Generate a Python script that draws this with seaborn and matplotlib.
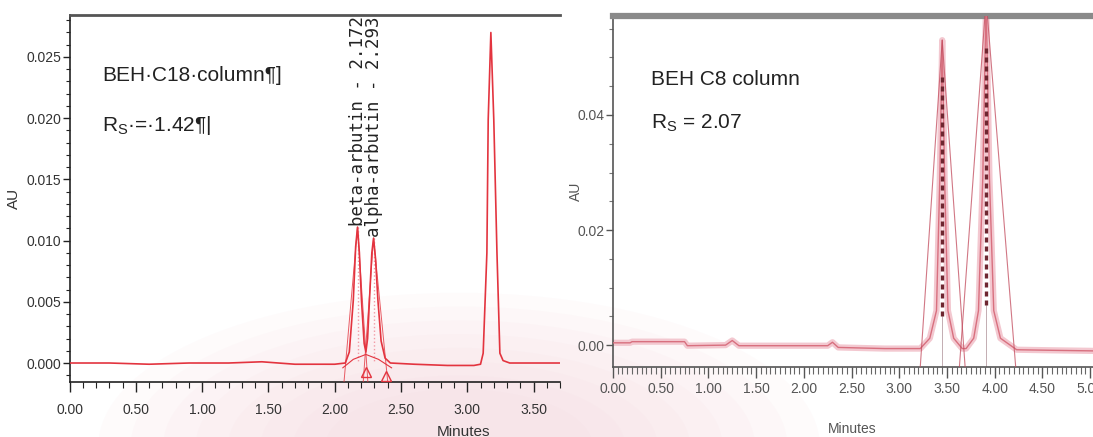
import matplotlib
matplotlib.use("Agg")
import pandas as pd
import seaborn as sns
import matplotlib.pyplot as plt
from matplotlib import font_manager
from matplotlib.ticker import MultipleLocator, FormatStrFormatter
from matplotlib.patches import Ellipse

# ---------------- data: BEH C18 column ----------------
c18_time = [0.00, 0.30, 0.60, 0.90, 1.20, 1.45, 1.70, 2.00, 2.08, 2.11, 2.14, 2.158,
            2.172, 2.186, 2.202, 2.222, 2.235, 2.248, 2.262, 2.280, 2.293, 2.308, 2.326,
            2.350, 2.38, 2.42, 2.60, 2.85, 3.05, 3.10, 3.12, 3.148, 3.158, 3.178, 3.20,
            3.224, 3.246, 3.27, 3.32, 3.50, 3.70]
c18_au = [0.0000, 0.0000, -0.0001, 0.0000, 0.0000, 0.0001, -0.0001, -0.0001, 0.0000,
          0.0009, 0.0051, 0.0095, 0.0111, 0.0090, 0.0051, 0.0016, 0.0009, 0.0020, 0.0051,
          0.0090, 0.0102, 0.0085, 0.0051, 0.0018, 0.0004, 0.0000, -0.0001, -0.0002,
          -0.0002, -0.0001, 0.0008, 0.0090, 0.0199, 0.0270, 0.0199, 0.0090, 0.0008,
          0.0002, 0.0000, 0.0000, 0.0000]
c18_peak_names = ["beta-arbutin", "alpha-arbutin"]
c18_peak_rt = [2.172, 2.293]
c18_peak_height = [0.0111, 0.0102]
c18_tangent_left = [2.07, 2.215]
c18_tangent_right = [2.25, 2.40]
c18_marker_time = [2.235, 2.385]
c18_marker_au = [-0.0007, -0.0011]
c18_skim_time = [2.06, 2.14, 2.235, 2.33, 2.43]
c18_skim_au = [-0.0004, 0.0003, 0.0007, 0.0003, -0.0004]
c18_rs = 1.42

# ---------------- data: BEH C8 column ----------------
c8_time = [0.00, 0.18, 0.20, 0.75, 0.78, 1.18, 1.25, 1.32, 2.25, 2.30, 2.36, 2.85,
           3.22, 3.32, 3.39, 3.425, 3.45, 3.475, 3.51, 3.57, 3.66, 3.70, 3.78, 3.83,
           3.875, 3.91, 3.945, 3.99, 4.06, 4.23, 4.60, 5.03]
c8_au = [0.0004, 0.0004, 0.0006, 0.0006, -0.0001, 0.0000, 0.0008, -0.0001, -0.0001,
         0.0005, -0.0004, -0.0006, -0.0006, 0.0012, 0.0060, 0.0290, 0.0530, 0.0290,
         0.0060, 0.0012, -0.0006, -0.0006, 0.0012, 0.0060, 0.0290, 0.0600, 0.0290,
         0.0060, 0.0012, -0.0008, -0.0009, -0.0010]
c8_peak_rt = [3.45, 3.91]
c8_peak_height = [0.053, 0.060]
c8_core_top = [0.047, 0.052]
c8_core_bottom = [0.005, 0.007]
c8_tangent_left = [3.22, 3.63]
c8_tangent_right = [3.69, 4.22]
c8_rs = 2.07


def pick_font(names):
    for name in names:
        try:
            font_manager.findfont(font_manager.FontProperties(family=name),
                                  fallback_to_default=False)
            return name
        except Exception:
            continue
    return "DejaVu Sans"


sns.set_theme(style="white")
plt.rcParams["font.family"] = ["Liberation Sans", "DejaVu Sans"]
narrow = pick_font(["Liberation Sans Narrow", "Liberation Sans"])

fig = plt.figure(figsize=(10.93, 4.37), dpi=100)
fig.patch.set_facecolor("white")
# soft pink glow behind the lower middle of the page
for k in range(8):
    scale = 1.0 - 0.09 * k
    fig.patches.append(Ellipse((0.42, -0.02), 0.66 * scale, 0.70 * scale,
                               transform=fig.transFigure, facecolor="#f7d3db",
                               edgecolor="none", alpha=0.09, zorder=0))

ax1 = fig.add_axes([0.0637, 0.1259, 0.4487, 0.8398])
ax2 = fig.add_axes([0.5608, 0.1602, 0.4392, 0.8032])
for ax in (ax1, ax2):
    ax.set_facecolor("none")
    ax.set_zorder(2)

# ---------- left panel ----------
red = "#e3343f"
ymin1, ymax1 = -0.00155, 0.02843
df18 = pd.DataFrame({"time": c18_time, "au": c18_au})
sns.lineplot(data=df18, x="time", y="au", ax=ax1, color=red, lw=1.2,
             estimator=None, sort=False, zorder=4)
for rt, h, tl, tr in zip(c18_peak_rt, c18_peak_height, c18_tangent_left, c18_tangent_right):
    ax1.plot([tl, rt, tr], [ymin1, h, ymin1], color=red, lw=0.7, alpha=0.8, zorder=3)
    ax1.plot([rt, rt], [h, 0.0], color="#f29aa5", lw=1.0, ls=":", zorder=3)
sns.lineplot(x=c18_skim_time, y=c18_skim_au, ax=ax1, color=red, lw=0.8,
             estimator=None, sort=False, zorder=3)
ax1.plot(c18_marker_time, c18_marker_au, ls="none", marker="^", ms=7,
         mfc="none", mec=red, mew=1.0, zorder=5)
for name, rt, h in zip(c18_peak_names, c18_peak_rt, c18_peak_height):
    ax1.text(rt, h + 0.0001, f"{name} - {rt:.3f}", rotation=90, ha="center",
             va="bottom", fontsize=12.5, color="#222222", family="DejaVu Sans Mono",
             zorder=6)

ax1.text(0.245, 0.0235, "BEH·C18·column¶]", fontsize=15, color="#222222",
         va="center", ha="left")
ax1.text(0.245, 0.0194, r"R$_{\mathregular{S}}$·=·" + f"{c18_rs:.2f}" + "¶|",
         fontsize=15, color="#222222", va="center", ha="left")

ax1.set_xlim(0, 3.70)
ax1.set_ylim(ymin1, ymax1)
ax1.xaxis.set_major_locator(MultipleLocator(0.5))
ax1.xaxis.set_minor_locator(MultipleLocator(0.1))
ax1.yaxis.set_major_locator(MultipleLocator(0.005))
ax1.yaxis.set_minor_locator(MultipleLocator(0.001))
ax1.xaxis.set_major_formatter(FormatStrFormatter("%.2f"))
ax1.yaxis.set_major_formatter(FormatStrFormatter("%.3f"))
ax1.tick_params(axis="x", which="major", direction="out", length=7, width=1,
                color="#222222", pad=8, labelsize=10, labelcolor="#333333",
                bottom=True, labelfontfamily=narrow)
ax1.tick_params(axis="x", which="minor", direction="out", length=4, width=0.8,
                color="#222222", bottom=True)
ax1.tick_params(axis="y", which="major", direction="out", length=5, width=1,
                color="#222222", pad=1, labelsize=10, labelcolor="#333333",
                left=True, labelfontfamily=narrow)
ax1.tick_params(axis="y", which="minor", direction="out", length=3, width=0.8,
                color="#222222", left=True)
ax1.set_xlabel("Minutes", fontsize=11, color="#333333", family=narrow)
ax1.set_ylabel("AU", fontsize=11, color="#333333", family=narrow)
ax1.xaxis.set_label_coords(0.804, -0.118)
ax1.yaxis.set_label_coords(-0.099, 0.5)
ax1.spines["right"].set_visible(False)
ax1.spines["top"].set_color("#555555")
ax1.spines["top"].set_linewidth(2.0)
for s in ("left", "bottom"):
    ax1.spines[s].set_color("#222222")
    ax1.spines[s].set_linewidth(1.2)

# ---------- right panel ----------
ymin2, ymax2 = -0.0038, 0.0572
df8 = pd.DataFrame({"time": c8_time, "au": c8_au})
sns.lineplot(data=df8, x="time", y="au", ax=ax2, color="#f3c8d0", lw=4.5,
             estimator=None, sort=False, zorder=2)
sns.lineplot(data=df8, x="time", y="au", ax=ax2, color="#d8707f", lw=1.0,
             estimator=None, sort=False, zorder=3)
for rt, h, tl, tr, ct, cb in zip(c8_peak_rt, c8_peak_height, c8_tangent_left,
                                 c8_tangent_right, c8_core_top, c8_core_bottom):
    ax2.plot([tl, rt, tr], [ymin2, h, ymin2], color="#c24a5c", lw=0.8, alpha=0.75, zorder=3)
    ax2.plot([rt, rt], [cb, ct], color="#6e2630", lw=2.4, ls=(0, (1.5, 1.2)), zorder=4)
    ax2.plot([rt, rt], [ymin2, cb], color="#b9a0a6", lw=0.6, zorder=2)

ax2.text(0.40, 0.0461, "BEH C8 column", fontsize=15, color="#222222",
         va="center", ha="left")
ax2.text(0.40, 0.0386, r"R$_{\mathregular{S}}$ = " + f"{c8_rs:.2f}", fontsize=15,
         color="#222222", va="center", ha="left")

ax2.set_xlim(0, 5.03)
ax2.set_ylim(ymin2, ymax2)
ax2.xaxis.set_major_locator(MultipleLocator(0.5))
ax2.xaxis.set_minor_locator(MultipleLocator(0.05))
ax2.yaxis.set_major_locator(MultipleLocator(0.02))
ax2.yaxis.set_minor_locator(MultipleLocator(0.005))
ax2.xaxis.set_major_formatter(FormatStrFormatter("%.2f"))
ax2.yaxis.set_major_formatter(FormatStrFormatter("%.2f"))
ax2.tick_params(axis="x", which="major", direction="out", length=8, width=1,
                color="#555555", pad=3, labelsize=10, labelcolor="#555555",
                bottom=True, labelfontfamily=narrow)
ax2.tick_params(axis="x", which="minor", direction="out", length=5, width=0.8,
                color="#666666", bottom=True)
ax2.tick_params(axis="y", which="major", direction="out", length=5, width=1,
                color="#555555", pad=1, labelsize=10, labelcolor="#555555",
                left=True, labelfontfamily=narrow)
ax2.tick_params(axis="y", which="minor", direction="out", length=3, width=0.8,
                color="#777777", left=True)
ax2.set_xlabel("Minutes", fontsize=10, color="#555555", family=narrow)
ax2.set_ylabel("AU", fontsize=10, color="#555555", family=narrow)
ax2.xaxis.set_label_coords(0.498, -0.157)
ax2.yaxis.set_label_coords(-0.0625, 0.5)
ax2.spines["right"].set_visible(False)
ax2.spines["top"].set_color("#8a8a8a")
ax2.spines["top"].set_linewidth(4.5)
for s in ("left", "bottom"):
    ax2.spines[s].set_color("#555555")
    ax2.spines[s].set_linewidth(1.2)

fig.savefig("out.png", dpi=100)
